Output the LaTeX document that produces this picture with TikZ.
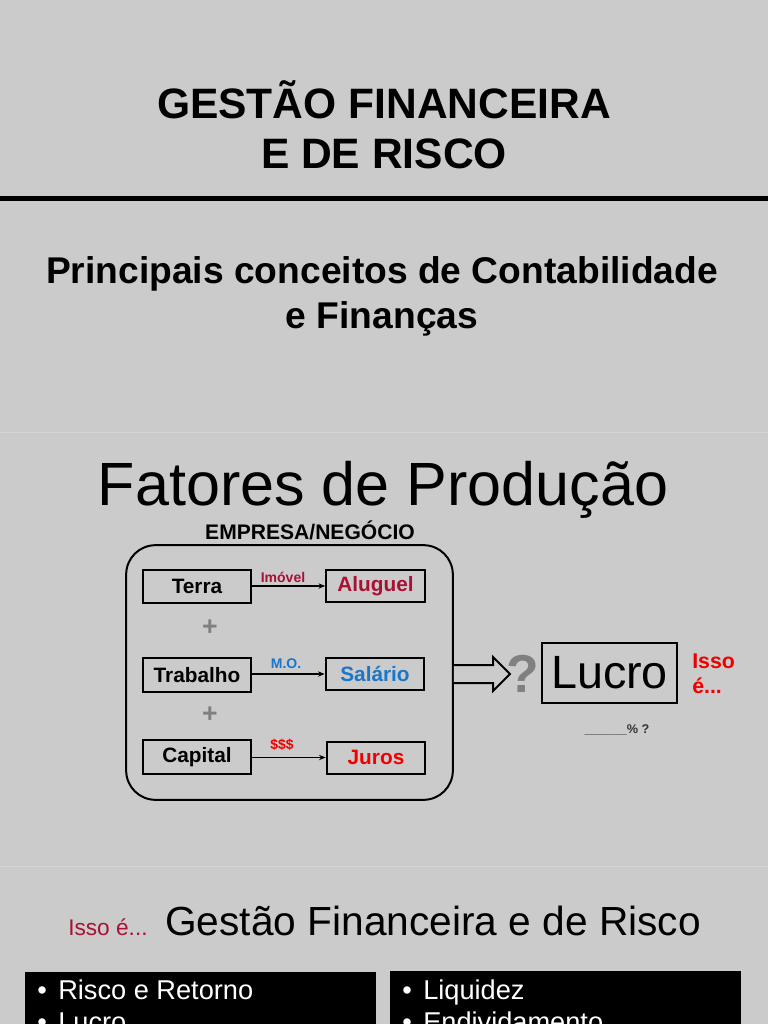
\documentclass[tikz,border=0pt]{standalone}
\usepackage{fontspec}
\setmainfont{Liberation Sans}
\usetikzlibrary{arrows.meta}
\definecolor{bg}{RGB}{203,203,203}
\definecolor{sep}{RGB}{213,213,213}
\definecolor{dred}{RGB}{168,16,52}
\definecolor{mblue}{RGB}{25,118,200}
\definecolor{bred}{RGB}{240,0,0}
\definecolor{qgray}{RGB}{128,128,128}
\tikzset{
  fbox/.style={draw, line width=1.5pt, fill=bg, inner sep=0pt, minimum width=81pt, minimum height=25pt,
    font=\fontsize{15.6}{18}\selectfont\bfseries},
  rbox/.style={fbox, minimum width=74pt, minimum height=24pt},
  flow/.style={line width=1.1pt, -{Stealth[length=5pt,width=4pt]}},
  lbl/.style={anchor=base, inner sep=0pt, font=\fontsize{10.5}{12}\selectfont\bfseries},
  plus/.style={inner sep=0pt, text=qgray, font=\fontsize{20}{22}\selectfont\bfseries},
  bul/.style={anchor=base west, inner sep=0pt, text=white, font=\fontsize{20.4}{24}\selectfont},
}
\begin{document}
\begin{tikzpicture}[x=0.75pt,y=-0.75pt]
\fill[bg] (0,0) rectangle (768,1024);
\useasboundingbox (0,0) rectangle (768,1024);

% separators
\fill[black] (0,196) rectangle (768,201);
\draw[sep, line width=0.75pt] (0,432) -- (768,432);
\draw[sep, line width=0.75pt] (0,866) -- (768,866);

% slide 1
\node[anchor=base, inner sep=0pt, font=\fontsize{31.9}{36}\selectfont\bfseries] (t1) at (384,118) {GESTÃO FINANCEIRA};
\node[anchor=base, inner sep=0pt, font=\fontsize{31.9}{36}\selectfont\bfseries] (t2) at (384,168) {E DE RISCO};

% slide 2
\node[anchor=base, inner sep=0pt, font=\fontsize{27.9}{32}\selectfont\bfseries] (s1) at (382,283) {Principais conceitos de Contabilidade};
\node[anchor=base, inner sep=0pt, font=\fontsize{27.9}{32}\selectfont\bfseries] (s2) at (382,328) {e Finanças};

% slide 3
\node[anchor=base, inner sep=0pt, font=\fontsize{45.8}{50}\selectfont] (fat) at (383,505) {Fatores de Produção};
\node[anchor=base, inner sep=0pt, font=\fontsize{15.8}{18}\selectfont\bfseries] (emph) at (310,539) {EMPRESA/NEGÓCIO};

\node[draw, line width=1.5pt, rounded corners=22pt, minimum width=245pt, minimum height=191pt, inner sep=0pt] (emp) at (289.5,672.5) {};

\node[fbox] (terra) at (197,586.5) {Terra};
\node[rbox, text=dred] (alug) at (375.5,586) {Aluguel};
\node[fbox] (trab) at (197,675) {Trabalho};
\node[rbox, text=mblue] (sal) at (375,674) {Salário};
\node[fbox] (cap) at (197,757) {Capital};
\node[rbox, text=bred] (jur) at (376,757.5) {Juros};

\draw[flow] (terra.east |- alug.west) -- (alug.west);
\draw[flow] (trab.east |- sal.west) -- (sal.west);
\draw[flow] (cap.east |- jur.west) -- (jur.west);

\node[lbl, text=dred] (imo) at (283,582) {Imóvel};
\node[lbl, text=mblue] (mo) at (286,668) {M.O.};
\node[lbl, text=bred] (din) at (282,749) {\$\$\$};

\node[plus] (p1) at (210,628) {+};
\node[plus] (p2) at (210,715) {+};

% big outlined arrow
\draw[line width=1.5pt, fill=bg, line join=miter]
  (emp.east |- 0,665) -- (493,665) -- (493,657) -- (510,674) -- (493,691) -- (493,683) -- (emp.east |- 0,683);

\node[anchor=base, inner sep=0pt, text=qgray, font=\fontsize{40}{44}\selectfont\bfseries] (q) at (522.5,692) {?};
\node[draw, line width=1.5pt, inner sep=0pt, minimum width=101pt, minimum height=45pt,
      font=\fontsize{35}{40}\selectfont] (lucro) at (609.5,673) {Lucro};
\node[anchor=north west, inner sep=0pt, align=left, text=bred, font=\fontsize{16}{18.75}\selectfont\bfseries] (isso) at (692,654) {Isso\\é...};
\node[anchor=base, inner sep=0pt, text=black!80, font=\fontsize{9.5}{11}\selectfont\bfseries] (pct) at (617,733) {\_\_\_\_\_\_\% ?};

% slide 4
\node[anchor=base west, inner sep=0pt, text=dred, font=\fontsize{17}{20}\selectfont] (isso3) at (68,935) {Isso é...};
\node[anchor=base west, inner sep=0pt, font=\fontsize{30.5}{34}\selectfont] (gfr) at (165,935) {Gestão Financeira e de Risco};

\fill[black] (25,972) rectangle (376,1030);
\fill[black] (390,971) rectangle (741,1030);
\node[bul] (b1) at (37,999) {•};
\node[bul] (l1) at (58,999) {Risco e Retorno};
\node[bul] (b2) at (37,1031) {•};
\node[bul] (l2) at (58,1031) {Lucro};
\node[bul] (b3) at (402,999) {•};
\node[bul] (r1) at (423,999) {Liquidez};
\node[bul] (b4) at (402,1031) {•};
\node[bul] (r2) at (423,1031) {Endividamento};
\end{tikzpicture}
\end{document}
